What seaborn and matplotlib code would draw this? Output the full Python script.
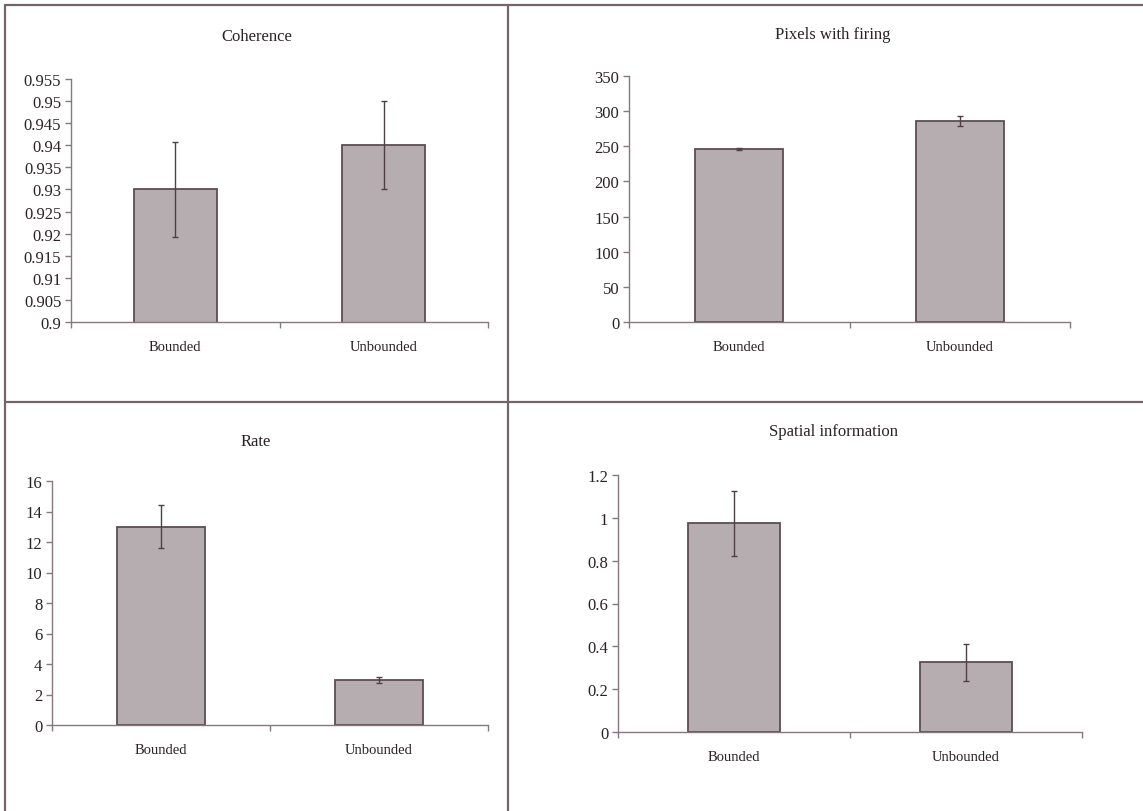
import matplotlib
matplotlib.use("Agg")
import matplotlib.pyplot as plt
import seaborn as sns
import pandas as pd
from matplotlib.lines import Line2D
from matplotlib.ticker import FuncFormatter, MultipleLocator

# data
categories = ["Bounded", "Unbounded"]

coherence_mean = [0.930, 0.940]
coherence_err = [0.0108, 0.0100]

pixels_mean = [246, 286]
pixels_err = [1.0, 7.0]

rate_mean = [13.0, 2.95]
rate_err = [1.4, 0.2]

spatial_mean = [0.975, 0.325]
spatial_err = [0.152, 0.088]

titles = ["Coherence", "Pixels with firing", "Rate", "Spatial information"]

sns.set_theme(style="white")
plt.rcParams["font.family"] = ["Liberation Serif", "DejaVu Serif"]

W, H = 1143, 812
fig = plt.figure(figsize=(W / 100, H / 100), dpi=100)
fig.patch.set_facecolor("white")

bar_col = "#b5adb0"
edge_col = "#5e4c54"
text_col = "#2a2226"
axis_col = "#857880"
frame_col = "#74646b"


def box(left, right, top, bottom):
    return [left / W, 1 - bottom / H, (right - left) / W, (bottom - top) / H]


# (axes box in px, ylim, step, values, errors, title pos)
panels = [
    (box(71, 488, 80, 323), (0.9, 0.955), 0.005, coherence_mean, coherence_err, (257, 37)),
    (box(629, 1070, 77, 323), (0, 350), 50, pixels_mean, pixels_err, (833, 35)),
    (box(52, 488, 482, 726), (0, 16), 2, rate_mean, rate_err, (256, 442)),
    (box(618, 1082, 476, 733), (0, 1.2), 0.2, spatial_mean, spatial_err, (833, 432)),
]

for (rect, ylim, step, vals, errs, tpos), title in zip(panels, titles):
    ax = fig.add_axes(rect)
    df = pd.DataFrame({"cat": categories, "val": vals})
    sns.barplot(data=df, x="cat", y="val", ax=ax, width=0.4, color=bar_col,
                edgecolor=edge_col, linewidth=1.3, saturation=1)
    ax.errorbar(range(len(categories)), vals, yerr=errs, fmt="none",
                ecolor="#4e4046", elinewidth=1.0, capsize=2.5, capthick=1.0)
    ax.set_xlim(-0.5, 1.5)
    ax.set_ylim(*ylim)
    ax.yaxis.set_major_locator(MultipleLocator(step))
    ax.yaxis.set_major_formatter(FuncFormatter(lambda v, _: f"{round(v, 4):g}"))
    ax.set_xlabel("")
    ax.set_ylabel("")
    ax.set_facecolor("none")
    for s in ["top", "right"]:
        ax.spines[s].set_visible(False)
    for s in ["left", "bottom"]:
        ax.spines[s].set_color(axis_col)
        ax.spines[s].set_linewidth(1.0)
    ax.set_xticks([0, 1])
    ax.set_xticklabels(categories)
    ax.set_xticks([-0.5, 0.5, 1.5], minor=True)
    ax.tick_params(axis="x", which="major", length=0, pad=13, labelsize=10.5,
                   labelcolor=text_col)
    ax.tick_params(axis="x", which="minor", length=4, width=1, color=axis_col,
                   direction="out", bottom=True)
    ax.tick_params(axis="y", length=4, width=1, color=axis_col, direction="out",
                   left=True, pad=3, labelsize=12, labelcolor=text_col)
    fig.text(tpos[0] / W, 1 - tpos[1] / H, title, ha="center", va="center",
             fontsize=12, color=text_col)

# page frame lines around the four panels
def hline(y, x0, x1):
    fig.add_artist(Line2D([x0 / W, x1 / W], [1 - y / H, 1 - y / H],
                          color=frame_col, linewidth=1.6))


def vline(x, y0, y1):
    fig.add_artist(Line2D([x / W, x / W], [1 - y0 / H, 1 - y1 / H],
                          color=frame_col, linewidth=1.6))


hline(6, 5, 1143)
hline(403, 5, 1143)
vline(5, 6, 812)
vline(508, 6, 812)

fig.savefig("out.png", dpi=100, facecolor="white")
